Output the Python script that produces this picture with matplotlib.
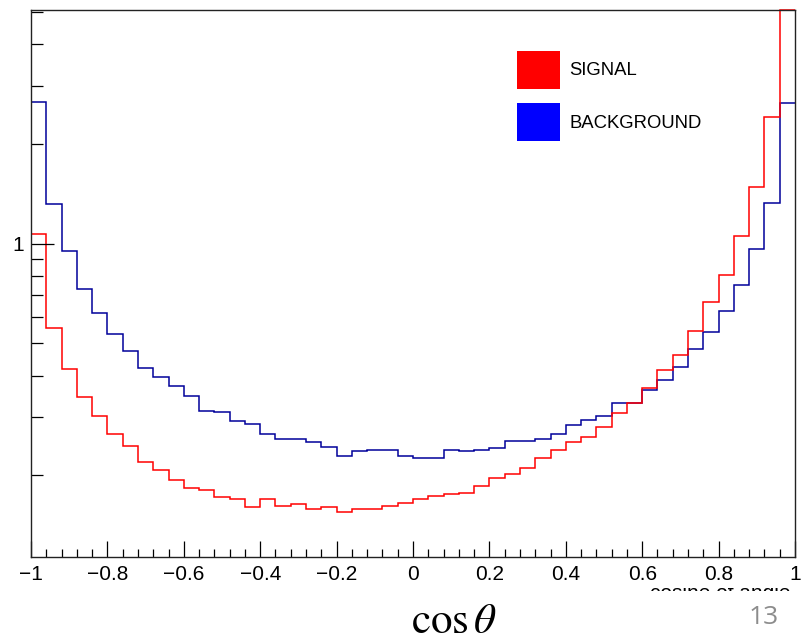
import numpy as np
import matplotlib
matplotlib.use("Agg")
import matplotlib.pyplot as plt
from matplotlib.patches import Patch
from matplotlib.ticker import LogLocator, NullFormatter, FixedLocator, FixedFormatter, MultipleLocator
from matplotlib.transforms import Bbox

# ---------------- data ----------------
x_min, x_max, n_bins = -1.0, 1.0, 50

signal = [1.068, 0.558, 0.420, 0.345, 0.301, 0.266, 0.245, 0.219, 0.207, 0.194,
          0.183, 0.181, 0.172, 0.170, 0.160, 0.169, 0.162, 0.164, 0.158, 0.160,
          0.155, 0.158, 0.158, 0.161, 0.165, 0.169, 0.173, 0.175, 0.177, 0.185,
          0.196, 0.202, 0.211, 0.225, 0.238, 0.252, 0.261, 0.279, 0.308, 0.331,
          0.366, 0.415, 0.461, 0.546, 0.665, 0.803, 1.055, 1.480, 2.409, 5.08]

background = [2.685, 1.321, 0.949, 0.728, 0.616, 0.535, 0.473, 0.423, 0.396, 0.371,
              0.347, 0.312, 0.310, 0.292, 0.286, 0.267, 0.258, 0.258, 0.252, 0.244,
              0.228, 0.237, 0.238, 0.238, 0.228, 0.226, 0.226, 0.239, 0.237, 0.239,
              0.242, 0.253, 0.253, 0.258, 0.267, 0.283, 0.293, 0.303, 0.330, 0.330,
              0.363, 0.387, 0.425, 0.481, 0.542, 0.626, 0.750, 0.962, 1.330, 2.667]

labels = ["SIGNAL", "BACKGROUND"]
x_tick_labels = ["\u22121", "\u22120.8", "\u22120.6", "\u22120.4", "\u22120.2",
                 "0", "0.2", "0.4", "0.6", "0.8", "1"]
x_title = "cosine of angle"
slide_title = r"$\cos\theta$"
page_number = "13"

edges = np.linspace(x_min, x_max, n_bins + 1)

# ---------------- figure ----------------
W, H = 808, 642
fig = plt.figure(figsize=(W / 100, H / 100), dpi=100)
fig.patch.set_facecolor("white")
ax = fig.add_axes([31 / W, (H - 557) / H, 764 / W, 547 / H])

sig_col = "#ff0000"
bkg_col = "#00009a"

ax.stairs(background, edges, color=bkg_col, lw=1.1, baseline=None)
ax.stairs(signal, edges, color=sig_col, lw=1.1, baseline=None, clip_on=False)

ax.set_yscale("log")
ax.set_xlim(x_min, x_max)
ax.set_ylim(0.1133, 5.08)

font = "Liberation Sans"

# x ticks
ax.xaxis.set_major_locator(FixedLocator(np.linspace(x_min, x_max, len(x_tick_labels))))
ax.xaxis.set_major_formatter(FixedFormatter(x_tick_labels))
ax.xaxis.set_minor_locator(MultipleLocator(0.04))
# y ticks
ax.yaxis.set_major_locator(FixedLocator([1.0]))
ax.yaxis.set_major_formatter(FixedFormatter(["1"]))
ax.yaxis.set_minor_locator(LogLocator(base=10, subs=np.arange(2, 10)))
ax.yaxis.set_minor_formatter(NullFormatter())

ax.tick_params(axis="x", which="major", direction="in", length=11.5, width=0.9,
               pad=5.5, labelsize=15, top=False)
ax.tick_params(axis="x", which="minor", direction="in", length=5.6, width=0.9, top=False)
ax.tick_params(axis="y", which="major", direction="in", length=16.5, width=0.9,
               pad=5, labelsize=15, right=False)
ax.tick_params(axis="y", which="minor", direction="in", length=8.5, width=0.9, right=False)
for lab in ax.get_xticklabels() + ax.get_yticklabels():
    lab.set_fontfamily(font)

for sp in ax.spines.values():
    sp.set_linewidth(1.0)
    sp.set_color("#222222")

# legend
handles = [Patch(facecolor="#ff0000", edgecolor="none"),
           Patch(facecolor="#0000ff", edgecolor="none")]
leg = ax.legend(handles, labels, loc="upper left",
                bbox_to_anchor=((517 - 31) / 764, (557 - 51) / 547),
                frameon=False, borderpad=0, borderaxespad=0,
                handlelength=2.33, handleheight=2.775, handletextpad=0.5,
                labelspacing=0.78, prop={"family": font, "size": 13.3})

# axis title, mostly hidden below (only top strip visible)
t = fig.text(790 / W, (H - 599) / H, x_title, ha="right", va="baseline",
             fontsize=15, family=font, color="black")
t.set_clip_box(Bbox.from_extents(600, H - 590.5, 800, H - 588))
t.set_clip_on(True)

# slide overlay texts
fig.text(454 / W, (H - 621) / H, slide_title, ha="center", va="center",
         fontsize=31, math_fontfamily="stix", color="black")
fig.text(764 / W, (H - 617) / H, page_number, ha="center", va="center",
         fontsize=19, family="Open Sans", color="#8c8c8c")

fig.savefig("out.png", dpi=100)
